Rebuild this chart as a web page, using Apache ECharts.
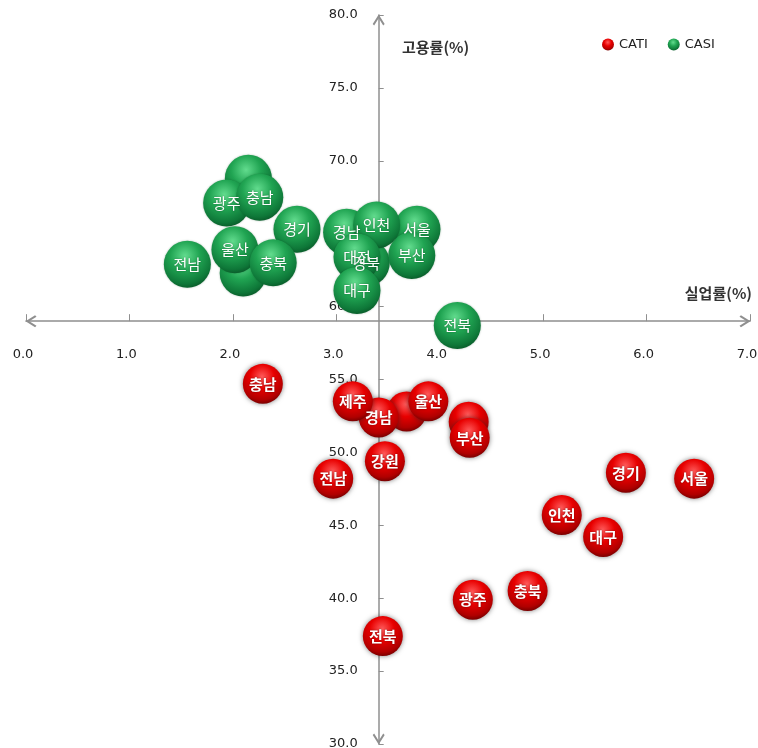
<!DOCTYPE html>
<html>
<head>
<meta charset="utf-8">
<script src="https://cdn.jsdelivr.net/npm/echarts@6/dist/echarts.min.js"></script>
<style>
  html, body { margin: 0; padding: 0; background: #fff; }
  #chart { width: 758px; height: 748px; }
</style>
</head>
<body>
<div id="chart"></div>
<script>
// 축 범위 / 교차점
const xMin = 0, xMax = 7, xStep = 1
const yMin = 30, yMax = 80, yStep = 5
const crossX = 3.41   // 세로축이 지나는 실업률
const crossY = 59.0   // 가로축이 지나는 고용률

// CATI (빨강) - 앞쪽 두 개는 다른 점에 가려짐
const catiNames = ['대전', '경북', '경남', '제주', '울산', '부산', '서울', '대구', '인천', '광주', '경기', '강원', '충북', '충남', '전북', '전남']
const catiX = [3.68, 4.28, 3.41, 3.16, 3.89, 4.29, 6.46, 5.58, 5.18, 4.32, 5.80, 3.47, 4.85, 2.29, 3.45, 2.97]
const catiY = [52.8, 52.1, 52.4, 53.5, 53.5, 51.0, 48.2, 44.2, 45.7, 39.9, 48.6, 49.4, 40.5, 54.7, 37.4, 48.2]
const catiHidden = ['대전', '경북']

// CASI (초록)
const casiNames = ['강원', '제주', '경북', '경남', '서울', '부산', '인천', '대전', '대구', '광주', '충남', '경기', '울산', '충북', '전남', '전북']
const casiX = [2.15, 2.10, 3.29, 3.10, 3.78, 3.73, 3.39, 3.20, 3.20, 1.94, 2.26, 2.62, 2.02, 2.39, 1.56, 4.17]
const casiY = [68.8, 62.3, 63.0, 65.1, 65.3, 63.5, 65.6, 63.4, 61.1, 67.1, 67.5, 65.3, 63.9, 63.0, 62.9, 58.7]
const casiHidden = ['강원', '제주']

const W = 758, H = 748
const grid = { left: 26, right: 8, top: 15, bottom: 4 }
const gridW = W - grid.left - grid.right
const gridH = H - grid.top - grid.bottom

const chevron = 'path://M50,0 L100,80 L88,92 L50,32 L12,92 L0,80 Z'
const axisColor = '#8f8f8f'
const tickFont = { fontFamily: 'DejaVu Sans', fontSize: 13, color: '#222' }

const redBall = {
  type: 'radial', x: 0.48, y: 0.32, r: 0.68,
  colorStops: [
    { offset: 0, color: '#ff5a5a' },
    { offset: 0.45, color: '#e80000' },
    { offset: 0.85, color: '#b00000' },
    { offset: 1, color: '#7a0000' },
  ],
}
const greenBall = {
  type: 'radial', x: 0.45, y: 0.32, r: 0.7,
  colorStops: [
    { offset: 0, color: '#62dc8e' },
    { offset: 0.45, color: '#20a452' },
    { offset: 0.85, color: '#0e7738' },
    { offset: 1, color: '#095a29' },
  ],
}

function toData(names, xs, ys, hidden) {
  return names.map((n, i) => ({
    name: n,
    value: [xs[i], ys[i]],
    label: { show: !hidden.includes(n) },
  }))
}

const chart = echarts.init(document.getElementById('chart'))

chart.setOption({
  animation: false,
  backgroundColor: '#fff',
  grid: { ...grid, containLabel: false, outerBoundsMode: 'none' },
  legend: {
    left: 602, top: 38, padding: 0,
    itemWidth: 12, itemHeight: 12, itemGap: 20,
    icon: 'circle',
    textStyle: { fontFamily: 'DejaVu Sans', fontSize: 13, color: '#222' },
    data: ['CATI', 'CASI'],
  },
  xAxis: {
    type: 'value',
    min: xMin, max: xMax, interval: xStep,
    position: 'bottom',
    offset: -(crossY - yMin) / (yMax - yMin) * gridH,
    axisLine: {
      onZero: false,
      symbol: [chevron, chevron], symbolSize: [14, 11], symbolOffset: [5, -5],
      lineStyle: { color: axisColor, width: 1.5 },
    },
    axisTick: { inside: true, length: 7, lineStyle: { color: axisColor } },
    axisLabel: {
      ...tickFont, margin: 27, padding: [0, 6, 0, 0],
      showMinLabel: true, showMaxLabel: true,
      formatter: v => v.toFixed(1),
    },
    splitLine: { show: false },
  },
  yAxis: {
    type: 'value',
    min: yMin, max: yMax, interval: yStep,
    position: 'left',
    offset: -(crossX - xMin) / (xMax - xMin) * gridW,
    axisLine: {
      onZero: false,
      symbol: [chevron, chevron], symbolSize: [14, 11], symbolOffset: [5, -5],
      lineStyle: { color: axisColor, width: 1.5 },
    },
    axisTick: { inside: true, length: 5, lineStyle: { color: axisColor } },
    axisLabel: {
      ...tickFont, margin: 21,
      showMinLabel: true, showMaxLabel: true,
      formatter: v => v.toFixed(1),
    },
    splitLine: { show: false },
  },
  graphic: [
    {
      type: 'text', x: 402, y: 47,
      style: {
        text: '고용률(%)', fill: '#333', textVerticalAlign: 'middle',
        font: 'bold 15px "Noto Sans CJK KR"',
      },
    },
    {
      type: 'text', x: 752, y: 293,
      style: {
        text: '실업률(%)', fill: '#333', textAlign: 'right', textVerticalAlign: 'middle',
        font: 'bold 15px "Noto Sans CJK KR"',
      },
    },
  ],
  series: [
    {
      name: 'CATI',
      type: 'scatter',
      symbol: 'circle',
      symbolSize: 40,
      itemStyle: {
        color: redBall, opacity: 1,
        shadowBlur: 5, shadowColor: 'rgba(40,40,40,0.6)',
      },
      label: {
        position: 'inside', formatter: '{b}',
        color: '#fff', fontSize: 15, fontWeight: 'bold',
        fontFamily: 'Noto Sans CJK KR',
        textShadowColor: 'rgba(0,0,0,0.5)', textShadowBlur: 2,
      },
      emphasis: { disabled: true },
      data: toData(catiNames, catiX, catiY, catiHidden),
    },
    {
      name: 'CASI',
      type: 'scatter',
      symbol: 'circle',
      symbolSize: 47,
      itemStyle: {
        color: greenBall, opacity: 1,
        shadowBlur: 2, shadowColor: 'rgba(0,60,20,0.35)',
      },
      label: {
        position: 'inside', formatter: '{b}',
        color: '#fff', fontSize: 15,
        fontFamily: 'Noto Sans CJK KR',
        textShadowColor: 'rgba(0,0,0,0.35)', textShadowBlur: 2,
      },
      emphasis: { disabled: true },
      data: toData(casiNames, casiX, casiY, casiHidden),
    },
  ],
})
</script>
</body>
</html>
